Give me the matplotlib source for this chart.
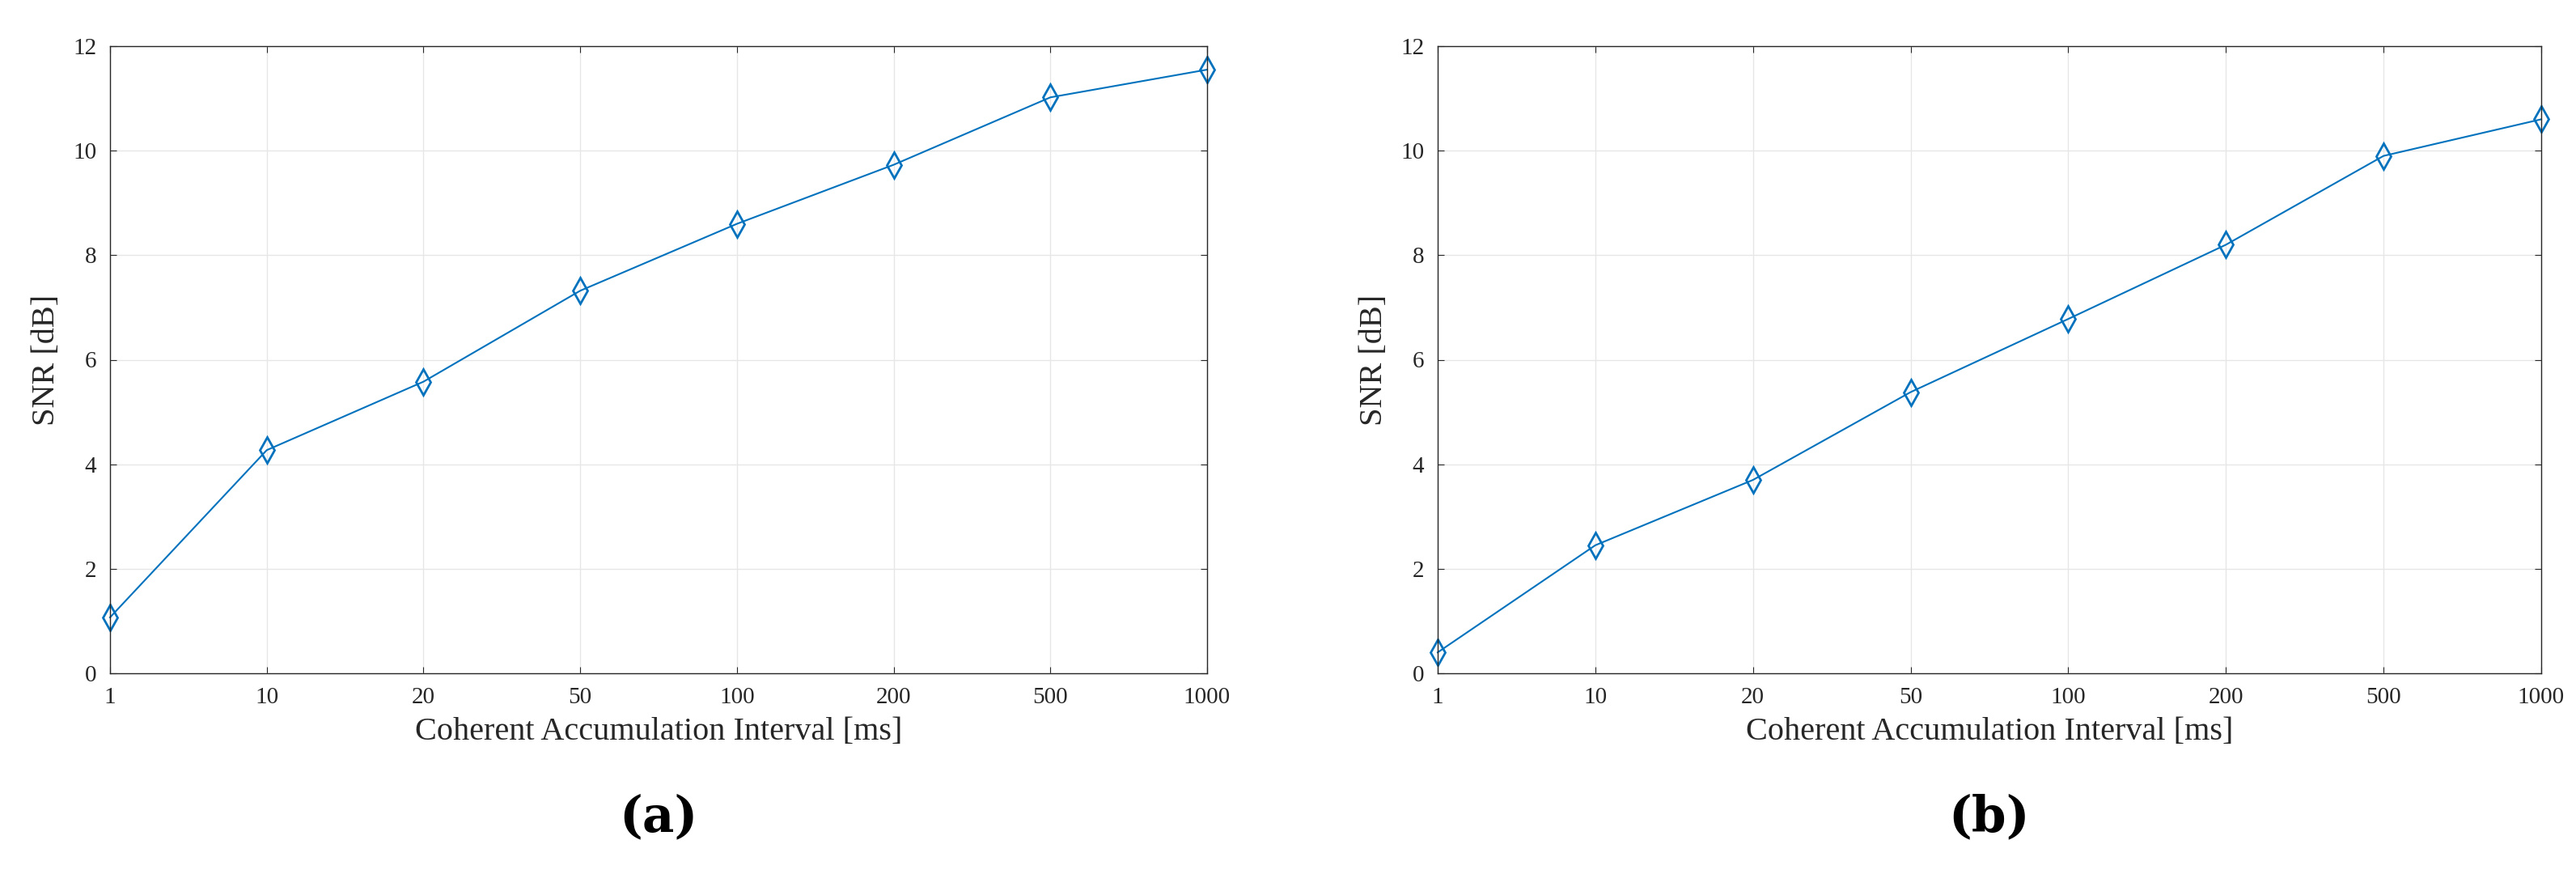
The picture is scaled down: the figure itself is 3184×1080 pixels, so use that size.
import matplotlib
matplotlib.use("Agg")
import matplotlib.pyplot as plt

intervals = ["1", "10", "20", "50", "100", "200", "500", "1000"]
snr_a = [1.07, 4.27, 5.58, 7.32, 8.60, 9.73, 11.02, 11.55]
snr_b = [0.40, 2.45, 3.70, 5.38, 6.78, 8.20, 9.90, 10.60]
panel_labels = ["(a)", "(b)"]

plt.rcParams['font.family'] = ['Liberation Serif', 'DejaVu Serif']
W, H = 3184, 1080
fig = plt.figure(figsize=(W/100, H/100), dpi=100)

axes_boxes = [(136, 57, 1492, 832), (1777, 57, 3141, 832)]
for (x0, y0, x1, y1), data, lab in zip(axes_boxes, [snr_a, snr_b], panel_labels):
    ax = fig.add_axes([x0/W, 1-y1/H, (x1-x0)/W, (y1-y0)/H])
    xs = list(range(len(intervals)))
    ax.plot(xs, data, color='#0072BD', lw=1.5, marker='D', markersize=10,
            markerfacecolor='none', markeredgecolor='#0072BD', markeredgewidth=2,
            clip_on=False)
    ax.lines[-1].set_marker(matplotlib.markers.MarkerStyle('d'))
    ax.lines[-1].set_markersize(16)
    ax.set_xlim(0, len(intervals)-1)
    ax.set_ylim(0, 12)
    ax.set_xticks(xs)
    ax.set_xticklabels(intervals)
    ax.set_yticks(range(0, 13, 2))
    ax.grid(True, color='#e6e6e6', lw=1)
    ax.set_axisbelow(True)
    for s in ax.spines.values():
        s.set_color('#262626'); s.set_linewidth(1)
    ax.tick_params(direction='in', labelsize=21, colors='#262626', length=6, top=True, right=True,
                   labeltop=False, labelright=False, pad=12)
    ax.set_xlabel('Coherent Accumulation Interval [ms]', fontsize=29, color='#262626', labelpad=8)
    ax.set_ylabel('SNR [dB]', fontsize=29, color='#262626', labelpad=10)
    fig.text((x0+x1)/2/W, 1-1010/H, lab, ha='center', va='center', fontsize=44,
             fontfamily=['DejaVu Serif'], fontweight='bold')

fig.savefig('out.png', dpi=100)
